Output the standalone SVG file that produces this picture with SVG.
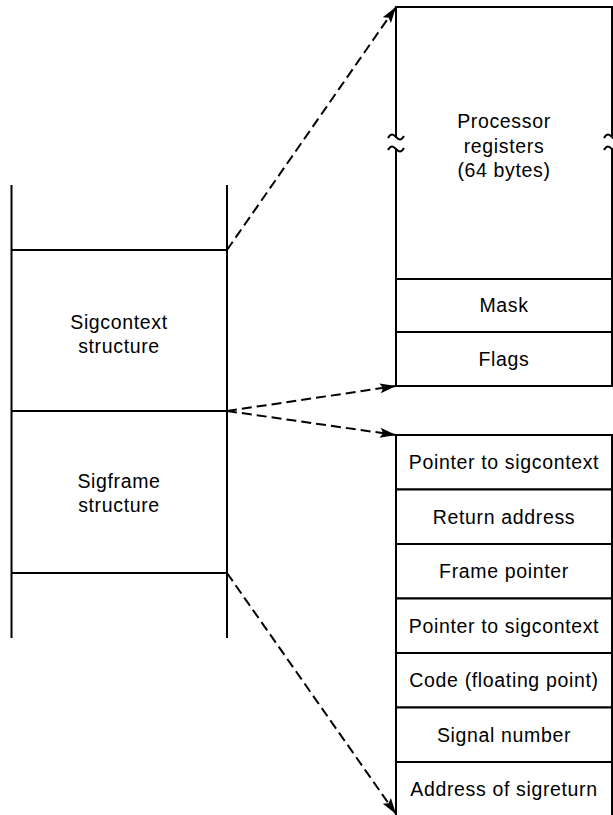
<svg xmlns="http://www.w3.org/2000/svg" width="613" height="815" viewBox="0 0 613 815">
<style>
.ln{stroke:#000;stroke-width:2;fill:none}
.cell{stroke:#000;stroke-width:2;fill:#fff}
.t{font-family:"Liberation Sans",Arial,sans-serif;font-size:19.5px;letter-spacing:0.65px;fill:#000;text-anchor:middle}
.dash{stroke:#000;stroke-width:2;fill:none;stroke-dasharray:10 5}
</style>
<defs>
<marker id="ah" markerUnits="userSpaceOnUse" markerWidth="18" markerHeight="12" refX="16" refY="5" orient="auto">
<path d="M0,0 L16,5 L0,10 L3,5 z" fill="#000"/>
</marker>
</defs>
<g id="stack">
<line class="ln" x1="11.5" y1="185" x2="11.5" y2="638"/>
<line class="ln" x1="227" y1="185" x2="227" y2="638"/>
<line class="ln" x1="11.5" y1="250" x2="227" y2="250"/>
<line class="ln" x1="11.5" y1="411" x2="227" y2="411"/>
<line class="ln" x1="11.5" y1="573" x2="227" y2="573"/>
</g>
<g id="sigcontext">
<text class="t" x="119" y="329">Sigcontext</text>
<text class="t" x="119" y="353">structure</text>
</g>
<g id="sigframe">
<text class="t" x="119" y="488">Sigframe</text>
<text class="t" x="119" y="512">structure</text>
</g>
<g id="registers">
<line class="ln" x1="396" y1="7" x2="612" y2="7"/>
<line class="ln" x1="396" y1="6" x2="396" y2="137"/>
<line class="ln" x1="396" y1="148" x2="396" y2="280"/>
<line class="ln" x1="612" y1="6" x2="612" y2="136"/>
<line class="ln" x1="612" y1="148" x2="612" y2="280"/>
<path class="ln" stroke-width="1.5" d="M388,138 C391,133 393,134 396,137 S401,141 404,136"/>
<path class="ln" stroke-width="1.5" d="M388,150 C391,145 393,146 396,149 S401,153 404,148"/>
<path class="ln" stroke-width="1.5" d="M604,138 C607,133 609,134 612,137 S617,141 620,136"/>
<path class="ln" stroke-width="1.5" d="M604,150 C607,145 609,146 612,149 S617,153 620,148"/>
<text class="t" x="504" y="128">Processor</text>
<text class="t" x="504" y="153">registers</text>
<text class="t" x="504" y="177">(64 bytes)</text>
</g>
<g id="mask">
<rect class="cell" x="396" y="279" width="216" height="53"/>
<text class="t" x="504" y="312">Mask</text>
</g>
<g id="flags">
<rect class="cell" x="396" y="332" width="216" height="54"/>
<text class="t" x="504" y="366">Flags</text>
</g>
<g id="ptr1">
<rect class="cell" x="396" y="435" width="216" height="54.5"/>
<text class="t" x="504" y="469">Pointer to sigcontext</text>
</g>
<g id="retaddr">
<rect class="cell" x="396" y="489.5" width="216" height="54.5"/>
<text class="t" x="504" y="524">Return address</text>
</g>
<g id="frameptr">
<rect class="cell" x="396" y="544" width="216" height="54.5"/>
<text class="t" x="504" y="578">Frame pointer</text>
</g>
<g id="ptr2">
<rect class="cell" x="396" y="598.5" width="216" height="54.5"/>
<text class="t" x="504" y="633">Pointer to sigcontext</text>
</g>
<g id="code">
<rect class="cell" x="396" y="653" width="216" height="54.5"/>
<text class="t" x="504" y="687">Code (floating point)</text>
</g>
<g id="signum">
<rect class="cell" x="396" y="707.5" width="216" height="54.5"/>
<text class="t" x="504" y="742">Signal number</text>
</g>
<g id="sigreturn">
<rect class="cell" x="396" y="762" width="216" height="60"/>
<text class="t" x="504" y="796">Address of sigreturn</text>
</g>
<g id="connectors">
<path class="dash" d="M227,250 L396,7" marker-end="url(#ah)"/>
<path class="dash" d="M227,411 L396,386" marker-end="url(#ah)"/>
<path class="dash" d="M227,411 L396,435" marker-end="url(#ah)"/>
<path class="dash" d="M227,573 L396,814" marker-end="url(#ah)"/>
</g>
</svg>
